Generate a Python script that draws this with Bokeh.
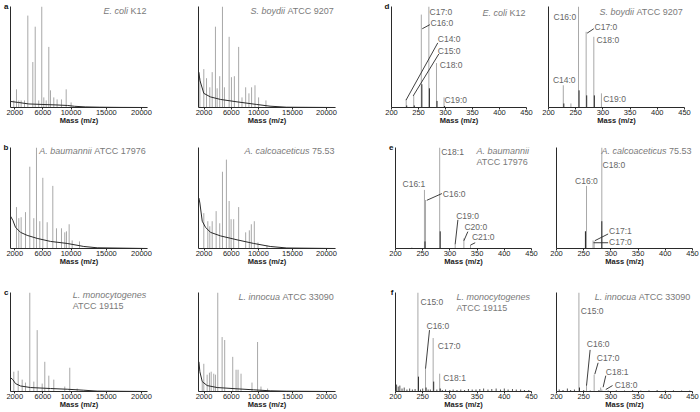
from bokeh.plotting import figure
from bokeh.layouts import column, row
from bokeh.models import Range1d, FixedTicker, Label
from bokeh.embed import file_html
from bokeh.resources import INLINE

FONT = "Liberation Sans"
NAME_COLOR = "#7a7a7a"
LABEL_COLOR = "#666666"
PEAK_COLOR = "#a8a8a8"
DARK = "#2a2a2a"
NAME_SIZE = 9.0
PK_SIZE = 8.5

# ---------------- protein mass spectra (relative intensity, %) ----------------
ecoli_mz = [1860, 2240, 2560, 2900, 3380, 3850, 4560, 4900, 5400, 5830, 6120, 6460, 6830, 7070, 7540, 8010, 8630, 9300, 10000]
ecoli_int = [7, 18, 7, 7, 7, 91, 45, 80, 7, 100, 10, 7, 60, 17, 10, 8, 8, 18, 5]
ecoli_base_mz = [1390, 2500, 4000, 6000, 8000, 9500, 10500, 12000, 14000, 17000, 20850]
ecoli_base_int = [6, 5, 3.5, 3, 2.5, 2, 1.2, 0.6, 0.3, 0.1, 0]

sboy_mz = [1390, 1970, 2370, 2850, 3200, 3680, 3930, 4310, 4710, 5000, 5690, 6030, 6460, 7090, 7580, 8120, 8600, 8990, 9490, 10020, 11100]
sboy_int = [29, 38, 29, 20, 35, 80, 19, 31, 100, 20, 70, 30, 31, 60, 10, 20, 14, 20, 22, 10, 7]
sboy_base_mz = [1250, 1390, 1970, 2940, 4400, 6850, 9750, 11700, 14100, 21300]
sboy_base_int = [35, 27, 14, 10.5, 8, 5.6, 3, 1.3, 0.3, 0]

abau_mz = [2240, 2570, 2900, 3520, 4130, 4700, 5080, 5550, 5980, 6600, 7400, 7920, 8630, 9100, 9340, 9720, 10150, 11190]
abau_int = [41, 30, 31, 36, 81, 30, 100, 27, 70, 26, 62, 20, 20, 16, 17, 24, 8, 7]
abau_base_mz = [1390, 1720, 2100, 2810, 3760, 5180, 7070, 9440, 11800, 13700, 20850]
abau_base_int = [32, 28, 21, 16, 13, 10, 7, 5, 2, 0.7, 0]

acal_mz = [1970, 2560, 2850, 3200, 3780, 4310, 4710, 5290, 5690, 5980, 6360, 7090, 8120, 8660, 8950, 9390, 9930, 11250]
acal_int = [35, 27, 22, 27, 37, 25, 76, 88, 47, 29, 29, 41, 16, 18, 24, 27, 6, 3]
acal_base_mz = [1250, 1390, 1740, 2220, 2950, 4410, 6850, 9290, 11730, 14170, 21300]
acal_base_int = [50, 45, 27, 21, 16, 12.5, 8.6, 5, 2, 0.5, 0]

lmon_mz = [1860, 2480, 3050, 3520, 4130, 4700, 5180, 5890, 6260, 6830, 7540, 9100, 9810, 10860]
lmon_int = [20, 21, 12, 9, 100, 10, 62, 8, 30, 16, 12, 5, 24, 3]
lmon_base_mz = [1390, 1720, 2100, 2810, 4230, 7070, 9440, 11800, 13700, 20850]
lmon_base_int = [14, 12, 8, 5.6, 4, 3, 2.3, 1.3, 0.4, 0]

linn_mz = [1740, 1970, 2460, 2800, 3050, 3430, 3680, 4020, 4660, 5040, 6220, 6710, 7000, 7440, 9050, 9870, 10370, 11340]
linn_int = [10, 28, 17, 19, 20, 18, 17, 100, 55, 52, 35, 22, 22, 18, 9, 50, 5, 3]
linn_base_mz = [1250, 1390, 1740, 2460, 3930, 6850, 9290, 11730, 14170, 21300]
linn_base_int = [30, 20, 10, 6, 4, 2.7, 1.7, 0.7, 0.3, 0]

# ---------------- fatty acid spectra (m/z 200-450) ----------------
d1_mz = [227.2, 241.2, 255.2, 269.2, 283.3, 297.3]
d1_int = [8, 12, 92, 100, 44, 10]
d1_iso_mz = [228.2, 242.2, 256.2, 270.2, 284.3, 298.3]
d1_iso_int = [2, 2, 23, 19, 6.5, 1.5]
d1_lab = ["C17:0", "C16:0", "C14:0", "C15:0", "C18:0", "C19:0"]

d2_mz = [227.2, 241.2, 255.2, 269.2, 283.3, 297.3]
d2_int = [22, 4, 100, 75, 70, 14]
d2_iso_mz = [228.2, 256.2, 270.2, 284.3]
d2_iso_int = [4, 17, 12, 12]
d2_lab = ["C16:0", "C17:0", "C18:0", "C14:0", "C19:0"]

e1_mz = [230.0, 253.2, 255.2, 281.2, 309.7, 325.7, 337.9]
e1_int = [1, 58, 48, 100, 4.5, 10, 3.5]
e1_iso_mz = [254.2, 282.2]
e1_iso_int = [7, 17]
e1_lab = ["C18:1", "C16:1", "C16:0", "C19:0", "C20:0", "C21:0"]

e2_mz = [253.2, 255.2, 267.2, 269.2, 283.3]
e2_int = [17, 62, 8, 7, 100]
e2_iso_mz = [253.2, 283.3]
e2_iso_int = [17, 27]
e2_lab = ["C18:0", "C16:0", "C17:1", "C17:0"]

f1_mz = [241.2, 255.2, 269.2, 281.2]
f1_int = [100, 23, 54, 18]
f1_iso_mz = [242.2, 256.2, 270.2, 282.2]
f1_iso_int = [15, 4, 10, 3]
f1_noise_mz = [202, 205, 208, 212, 216, 221, 226, 231, 236, 246, 250, 260, 264, 276, 286, 292, 300, 306, 313, 320, 327, 334, 341, 348, 355, 362, 370, 377, 385, 393, 400, 407, 415, 422, 430, 437, 445]
f1_noise_int = [7, 5, 6, 3, 4, 2, 3, 2, 2.5, 2, 3, 2, 2, 2, 1.5, 2, 1.5, 2, 1.5, 2, 1.5, 2.5, 2, 2, 2.5, 3, 2, 2.5, 3, 2, 3, 2, 2.5, 2, 2, 1.5, 1.5]
f1_lab = ["C15:0", "C16:0", "C17:0", "C18:1"]

f2_mz = [241.2, 255.2, 269.2, 281.2, 283.3]
f2_int = [100, 7, 17, 4, 2]
f2_iso_mz = [242.2]
f2_iso_int = [4]
f2_noise_mz = [205, 212, 220, 226, 233, 250, 262, 278, 295, 310, 325, 340, 355, 370, 385, 400, 415, 430, 445]
f2_noise_int = [2, 1.5, 3, 1.5, 2, 1.5, 1, 1.5, 1, 1.2, 1, 1.5, 1, 1.2, 1.5, 1, 1.2, 1, 1]
f2_lab = ["C15:0", "C16:0", "C17:0", "C18:1", "C18:0"]

MS_TICKS = [2000, 6000, 10000, 15000, 20000]
FA_TICKS = [200, 250, 300, 350, 400, 450]

# ---------------- layout (pixels) ----------------
ROWS = [(6, 101, 28), (12, 101, 28), (16, 99, 21)]           # top border, frame h, bottom border
COLS = [
    [(10, 137, 26), (25, 137, 25), (31, 135, 10), (12, 136, 16)],
    [(10, 137, 26), (25, 137, 25), (35, 136, 10), (15, 136, 8)],
    [(10, 137, 26), (25, 137, 25), (35, 136, 10), (15, 136, 8)],
]
XR = [(1390, 20850), (1190, 21320), (200, 450), (200, 450)]

W_ARIAL = {' ': 278, '.': 278, ':': 278, '(': 333, ')': 333, '/': 278,
           'A': 667, 'C': 722, 'E': 667, 'K': 667, 'L': 556, 'S': 667, 'T': 611,
           'a': 556, 'b': 556, 'c': 500, 'd': 556, 'e': 556, 'g': 556, 'i': 222,
           'l': 222, 'm': 833, 'n': 556, 'o': 556, 'p': 556, 's': 500, 't': 278,
           'u': 556, 'y': 500}


def tw(s, size):
    return sum(W_ARIAL.get(ch, 556) for ch in s) * size / 1000.0


# annotation layout for fatty-acid panels: (x, y, align) per label; leaders (x0, y0, x1, y1)
FA_LAYOUT = {
    "d1": dict(pos=[(270.4, 95, "left"), (272.2, 83.6, "left"), (285.7, 68, "left"),
                    (285.7, 55.7, "left"), (289.4, 42, "left"), (298, 7.3, "left")],
               lead=[(257.0, 78, 271, 82), (226.9, 7.3, 285.7, 64), (240.2, 11.5, 287.6, 53)]),
    "d2": dict(pos=[(250.9, 90, "right"), (284.6, 80, "left"), (288.2, 67, "left"),
                    (228.9, 27, "center"), (300.5, 8, "left")],
               lead=[(271, 73.6, 283.3, 78)]),
    "e1": dict(pos=[(284, 95.7, "left"), (254.6, 64, "right"), (287, 54.4, "left"),
                    (311.6, 32.4, "left"), (326.8, 21, "left"), (340.4, 11, "left")],
               lead=[(257.5, 47.7, 285.3, 54.4), (309.7, 4.3, 314.7, 28.4),
                     (325.7, 7.7, 333, 16.7), (337.9, 3.4, 346.5, 5.7)]),
    "e2": dict(pos=[(284.6, 83, "left"), (255, 67, "center"), (296.7, 17.4, "left"),
                    (296.7, 6.7, "left")],
               lead=[(270.4, 7.7, 294.9, 14.4), (268, 5.7, 294.9, 5.7)]),
    "f1": dict(pos=[(246, 90.8, "left"), (257, 66, "left"), (277.8, 45.5, "left"),
                    (287.7, 13.2, "left")],
               lead=[(255.2, 23, 262.5, 62)]),
    "f2": dict(pos=[(244.7, 81.7, "left"), (255.7, 47.5, "left"), (274, 34, "left"),
                    (290.6, 20, "left"), (307, 6.6, "left")],
               lead=[(255.2, 6, 261.8, 42), (270.4, 17.5, 276.5, 29),
                     (285.7, 4.3, 290.6, 16), (290.6, 2, 303, 6)]),
}

PANELS = [
    [
        dict(kind="ms", mz=ecoli_mz, it=ecoli_int, bmz=ecoli_base_mz, bit=ecoli_base_int,
             name=[[("E. coli", True), ("K12", False)]], anchor=("right", 0), dy=4, letter="a"),
        dict(kind="ms", mz=sboy_mz, it=sboy_int, bmz=sboy_base_mz, bit=sboy_base_int,
             name=[[("S. boydii", True), ("ATCC 9207", False)]], anchor=("right", 6.7), dy=4),
        dict(kind="fa", key="d1", mz=d1_mz, it=d1_int, imz=d1_iso_mz, iit=d1_iso_int, lab=d1_lab,
             name=[[("E. coli", True), ("K12", False)]], anchor=("right", -1), dy=6.7, letter="d"),
        dict(kind="fa", key="d2", mz=d2_mz, it=d2_int, imz=d2_iso_mz, iit=d2_iso_int, lab=d2_lab,
             name=[[("S. boydii", True), ("ATCC 9207", False)]], anchor=("right", 6), dy=5.7),
    ],
    [
        dict(kind="ms", mz=abau_mz, it=abau_int, bmz=abau_base_mz, bit=abau_base_int,
             name=[[("A. baumannii", True), ("ATCC 17976", False)]], anchor=("left", 28.8), dy=3,
             letter="b"),
        dict(kind="ms", mz=acal_mz, it=acal_int, bmz=acal_base_mz, bit=acal_base_int,
             name=[[("A. calcoaceticus", True), ("75.53", False)]], anchor=("right", 1.7), dy=3),
        dict(kind="fa", key="e1", mz=e1_mz, it=e1_int, imz=e1_iso_mz, iit=e1_iso_int, lab=e1_lab,
             name=[[("A. baumannii", True)], [("ATCC 17976", False)]], anchor=("left", 81), dy=3,
             letter="e"),
        dict(kind="fa", key="e2", mz=e2_mz, it=e2_int, imz=e2_iso_mz, iit=e2_iso_int, lab=e2_lab,
             name=[[("A. calcoaceticus", True), ("75.53", False)]], anchor=("right", 5.7), dy=3),
    ],
    [
        dict(kind="ms", mz=lmon_mz, it=lmon_int, bmz=lmon_base_mz, bit=lmon_base_int,
             name=[[("L. monocytogenes", True)], [("ATCC 19115", False)]], anchor=("left", 62.2), dy=2.7,
             letter="c"),
        dict(kind="ms", mz=linn_mz, it=linn_int, bmz=linn_base_mz, bit=linn_base_int,
             name=[[("L. innocua", True), ("ATCC 33090", False)]], anchor=("left", 40), dy=4),
        dict(kind="fa", key="f1", mz=f1_mz, it=f1_int, imz=f1_iso_mz, iit=f1_iso_int, lab=f1_lab,
             nmz=f1_noise_mz, nit=f1_noise_int,
             name=[[("L. monocytogenes", True)], [("ATCC 19115", False)]], anchor=("left", 61), dy=4,
             letter="f"),
        dict(kind="fa", key="f2", mz=f2_mz, it=f2_int, imz=f2_iso_mz, iit=f2_iso_int, lab=f2_lab,
             nmz=f2_noise_mz, nit=f2_noise_int,
             name=[[("L. innocua", True), ("ATCC 33090", False)]], anchor=("left", 38.3), dy=4),
    ],
]


def build(spec, ri, ci):
    T, H, B = ROWS[ri]
    L, W, R = COLS[ri][ci]
    x0, x1 = XR[ci]
    sx = (x1 - x0) / W
    sy = 100.0 / H
    p = figure(frame_width=W, frame_height=H, min_border_left=L, min_border_right=R,
               min_border_top=T, min_border_bottom=B,
               x_range=Range1d(x0, x1), y_range=Range1d(0, 100),
               output_backend="svg", toolbar_location=None, tools="")
    p.outline_line_color = None
    p.grid.visible = False
    p.background_fill_color = "white"
    p.border_fill_color = "white"

    xa = p.xaxis[0]
    xa.ticker = FixedTicker(ticks=MS_TICKS if spec["kind"] == "ms" else FA_TICKS)
    xa.major_tick_out = 2
    xa.major_tick_in = 0
    xa.minor_tick_out = 0
    xa.minor_tick_in = 0
    xa.major_label_standoff = 0
    xa.major_label_text_font = FONT
    xa.major_label_text_font_size = "7.5px"
    xa.major_label_text_color = "#222222"
    xa.axis_line_color = DARK
    xa.major_tick_line_color = DARK
    xa.axis_label = "Mass (m/z)"
    xa.axis_label_standoff = -2
    xa.axis_label_text_font = FONT
    xa.axis_label_text_font_size = "7.5px"
    xa.axis_label_text_font_style = "bold"
    xa.axis_label_text_color = "#222222"

    ya = p.yaxis[0]
    ya.ticker = FixedTicker(ticks=[])
    ya.major_label_text_font_size = "0px"
    ya.major_tick_out = 0
    ya.major_tick_in = 0
    ya.minor_tick_out = 0
    ya.minor_tick_in = 0
    ya.major_label_standoff = 0
    ya.axis_line_color = DARK
    if "letter" in spec:
        ya.axis_label = spec["letter"]
        ya.axis_label_orientation = "horizontal"
        ya.axis_label_align = "end"
        ya.axis_label_standoff = 2
        ya.axis_label_text_font = FONT
        ya.axis_label_text_font_size = "8px"
        ya.axis_label_text_font_style = "bold"
        ya.axis_label_text_color = "#111111"

    if spec["kind"] == "ms":
        p.segment(x0=spec["mz"], y0=[0] * len(spec["mz"]), x1=spec["mz"], y1=spec["it"],
                  line_color=PEAK_COLOR, line_width=1)
        p.line(spec["bmz"], spec["bit"], line_color=DARK, line_width=1.0)
    else:
        if "nmz" in spec:
            p.segment(x0=spec["nmz"], y0=[0] * len(spec["nmz"]), x1=spec["nmz"], y1=spec["nit"],
                      line_color="#555555", line_width=1)
        p.segment(x0=spec["mz"], y0=[0] * len(spec["mz"]), x1=spec["mz"], y1=spec["it"],
                  line_color=PEAK_COLOR, line_width=1)
        p.segment(x0=spec["imz"], y0=[0] * len(spec["imz"]), x1=spec["imz"], y1=spec["iit"],
                  line_color=DARK, line_width=1)
        lay = FA_LAYOUT[spec["key"]]
        ld = lay["lead"]
        p.segment(x0=[a[0] for a in ld], y0=[a[1] for a in ld], x1=[a[2] for a in ld],
                  y1=[a[3] for a in ld], line_color=DARK, line_width=0.9)
        for txt, (lx, ly, al) in zip(spec["lab"], lay["pos"]):
            p.add_layout(Label(x=lx, y=ly, text=txt, text_align=al, text_baseline="middle",
                               text_font=FONT, text_font_size=f"{PK_SIZE}px", text_color=LABEL_COLOR))

    # species name (kept inside the frame)
    side, dx = spec["anchor"]
    sp = tw(" ", NAME_SIZE)
    for li, line in enumerate(spec["name"]):
        total = sum(tw(t, NAME_SIZE) for t, _ in line) + sp * (len(line) - 1)
        left = dx if side == "left" else W + dx - total
        left = min(left, W - 1 - total)
        ypx = spec["dy"] + 11 * li
        cur = left
        for t, ital in line:
            p.add_layout(Label(x=x0 + cur * sx, y=100 - ypx * sy, text=t, text_align="left",
                               text_baseline="middle", text_font=FONT,
                               text_font_size=f"{NAME_SIZE}px",
                               text_font_style="italic" if ital else "normal",
                               text_color=NAME_COLOR))
            cur += tw(t, NAME_SIZE) + sp
    return p


rows = []
for ri, prow in enumerate(PANELS):
    rows.append(row(*[build(s, ri, ci) for ci, s in enumerate(prow)]))
layout = column(*rows)

open("out.html", "w").write(file_html(layout, INLINE))
